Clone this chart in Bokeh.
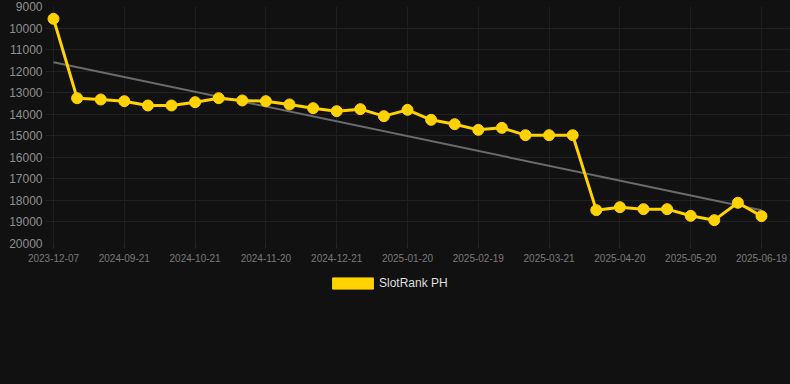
from bokeh.plotting import figure
from bokeh.models import Range1d, FixedTicker, ColumnDataSource, Legend, LegendItem
from bokeh.layouts import column
from bokeh.embed import file_html
from bokeh.resources import INLINE

tick_labels = ["2023-12-07", "2024-09-21", "2024-10-21", "2024-11-20", "2024-12-21",
               "2025-01-20", "2025-02-19", "2025-03-21", "2025-04-20", "2025-05-20", "2025-06-19"]
rank = [9570, 13255, 13316, 13394, 13594, 13594, 13440, 13255, 13362, 13394, 13547,
        13719, 13858, 13765, 14090, 13796, 14260, 14463, 14726, 14633, 14973,
        14973, 14973, 18452, 18313, 18406, 18406, 18715, 18917, 18109, 18731]
trend_ends = [11584, 18452]
series_name = "SlotRank PH"

idx = list(range(len(rank)))
tick_pos = idx[::3]

BG = "#111111"
YELLOW = "#FFD200"
p = figure(frame_width=745, frame_height=237, output_backend="svg", toolbar_location=None,
           x_range=Range1d(-0.339, 31.229), y_range=Range1d(20000, 9000),
           background_fill_color=BG, border_fill_color=BG, outline_line_color=None,
           min_border_left=45, min_border_right=0, min_border_top=6, min_border_bottom=22)

p.xaxis.ticker = FixedTicker(ticks=tick_pos)
p.xaxis.major_label_overrides = {t: lab for t, lab in zip(tick_pos, tick_labels)}
p.yaxis.ticker = FixedTicker(ticks=list(range(9000, 20001, 1000)))
for ax in (p.xaxis, p.yaxis):
    ax.axis_line_color = None
    ax.major_tick_line_color = "#262626"
    ax.minor_tick_line_color = None
    ax.major_label_text_font = "Liberation Sans"
p.yaxis.major_tick_out = 0
p.yaxis.major_tick_in = 0
p.xaxis.major_tick_out = 5
p.xaxis.major_tick_in = 0
p.yaxis.major_label_text_font_size = "12px"
p.yaxis.major_label_text_color = "#8f8f8f"
p.yaxis.major_label_standoff = 3
p.xaxis.major_label_text_font_size = "10px"
p.xaxis.major_label_text_color = "#7a7a7a"
p.xaxis.major_label_standoff = 5
p.xgrid.grid_line_color = "#1f1f1f"
p.ygrid.grid_line_color = "#222222"

p.line([idx[0], idx[-1]], trend_ends, line_color="#6b6b6b", line_width=2)
src = ColumnDataSource(dict(x=idx, y=rank))
p.line("x", "y", source=src, line_color=YELLOW, line_width=3)
p.scatter("x", "y", source=src, size=11, fill_color=YELLOW, line_color=YELLOW)

# legend strip below the chart (same frame geometry as the chart)
lf = figure(frame_width=745, frame_height=119, output_backend="svg", toolbar_location=None,
            x_axis_type=None, y_axis_type=None, x_range=Range1d(0, 1), y_range=Range1d(0, 1),
            background_fill_color=BG, border_fill_color=BG, outline_line_color=None,
            min_border_left=45, min_border_right=0, min_border_top=0, min_border_bottom=0)
lf.grid.visible = False
# legend key proxy, kept outside the visible range
swatch = lf.quad(left=[5], right=[6], top=[6], bottom=[5], fill_color=YELLOW, line_color=YELLOW)
legend = Legend(items=[LegendItem(label=series_name, renderers=[swatch])],
                location=(282, 94), orientation="horizontal",
                background_fill_alpha=0, border_line_color=None,
                glyph_width=51, glyph_height=14, label_text_color="#dddddd",
                label_text_font="Liberation Sans", label_text_font_size="12px",
                padding=0, margin=0, label_standoff=1, label_height=14,
                label_text_baseline="middle")
lf.add_layout(legend, "center")

layout = column(p, lf, spacing=0, styles={"background-color": BG})

open("out.html", "w").write(file_html(layout, INLINE))
